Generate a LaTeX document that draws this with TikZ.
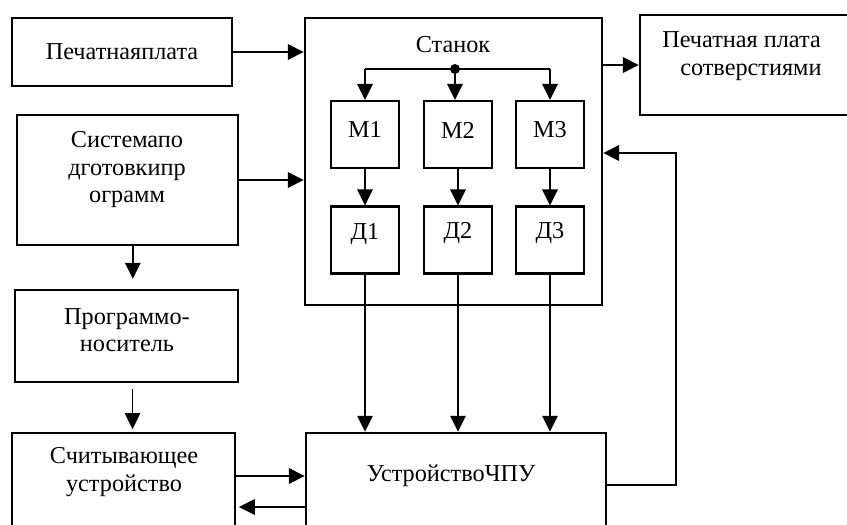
\documentclass[tikz,border=0pt]{standalone}
\usepackage{fontspec}
\setmainfont{Liberation Serif}
\usetikzlibrary{arrows.meta}
\begin{document}
\begin{tikzpicture}[x=0.75pt,y=-0.75pt,
  box/.style={draw,line width=1.8pt,inner sep=0pt},
  lbl/.style={font=\fontsize{18.2}{20.6}\selectfont,inner sep=0pt,align=center},
  tip/.style={-{Triangle[length=12pt,width=11.5pt]}},
  arr/.style={line width=1.8pt,tip},
  tarr/.style={line width=1.4pt,tip}]
\useasboundingbox (0,0) rectangle (847,525);
\clip (0,0) rectangle (847,525);
% boxes
\node[box,minimum width=165pt,minimum height=51pt] (pp) at (122,52) {};
\node[box,minimum width=222.75pt,minimum height=215.25pt] (st) at (453.5,161.5) {};
\node[box,minimum width=172.5pt,minimum height=75pt] (out) at (755,65) {};
\node[box,minimum width=165.75pt,minimum height=97.5pt] (sys) at (127.5,180) {};
\node[box,minimum width=167.25pt,minimum height=69pt] (prog) at (126.5,336) {};
\node[box,minimum width=167.25pt,minimum height=95.25pt] (read) at (123.5,496.5) {};
\node[box,minimum width=225pt,minimum height=95.25pt] (cnc) at (456,496.5) {};
\node[box,minimum width=51pt,minimum height=50pt] (m1) at (365,134.5) {};
\node[box,minimum width=51pt,minimum height=50pt] (m2) at (458,134.5) {};
\node[box,minimum width=51pt,minimum height=50pt] (m3) at (550,134.5) {};
\node[box,minimum width=51pt,minimum height=50pt] (d1) at (365,240) {};
\node[box,minimum width=51pt,minimum height=50pt] (d2) at (458,240) {};
\node[box,minimum width=51pt,minimum height=50pt] (d3) at (550,240) {};
% texts
\node[lbl] (tpp) at (122,52) {Печатнаяплата};
\node[lbl] (tst) at (453,45) {Станок};
\node[lbl,align=left,anchor=west] (tout) at (662,56) {Печатная плата\\\hspace*{13.5pt}сотверстиями};
\node[lbl] (tsys) at (127,170) {Системапо\\дготовкипр\\ограмм};
\node[lbl] (tprog) at (127,330) {Программо-\\носитель};
\node[lbl] (tread) at (124,472) {Считывающее\\устройство};
\node[lbl] (tcnc) at (451,476) {УстройствоЧПУ};
\node[lbl] (tm1) at (365,129) {М1};
\node[lbl] (tm2) at (458,130) {М2};
\node[lbl] (tm3) at (550,130) {М3};
\node[lbl] (td1) at (365,234) {Д1};
\node[lbl] (td2) at (458,233) {Д2};
\node[lbl] (td3) at (550,233) {Д3};
% helper coordinates
\coordinate (bus) at (0,69);
\coordinate (yr) at (0,476);
\coordinate (yl) at (0,507);
\coordinate (fb) at (676,485);
\coordinate (fbin) at (0,153);
\node[circle,fill,inner sep=0pt,minimum size=7.5pt] (dot) at (455,69) {};
% bus inside machine
\draw[line width=1.8pt] (m1.north |- bus) -- (m3.north |- bus);
\draw[arr] (m1.north |- bus) -- (m1.north);
\draw[arr] (dot) -- (dot |- m2.north);
\draw[arr] (m3.north |- bus) -- (m3.north);
\draw[arr] (m1.south) -- (d1.north);
\draw[arr] (m2.south) -- (d2.north);
\draw[arr] (m3.south) -- (d3.north);
% external arrows
\draw[arr] (pp.east) -- (pp.east -| st.west);
\draw[arr] (sys.east) -- (sys.east -| st.west);
\draw[arr] (st.east |- out.west) -- (out.west);
\draw[arr,shorten >=7.5pt] ([xshift=4pt]sys.south) -- ([xshift=4pt]sys.south |- prog.north);
\draw[tarr,shorten <=4.5pt,shorten >=2pt] ([xshift=4.5pt]prog.south) -- ([xshift=4.5pt]prog.south |- read.north);
\draw[tarr] (d1.south) -- (d1.south |- cnc.north);
\draw[tarr] (d2.south) -- (d2.south |- cnc.north);
\draw[tarr] (d3.south) -- (d3.south |- cnc.north);
\draw[arr] (read.east |- yr) -- (cnc.west |- yr);
\draw[arr,shorten >=2pt] (cnc.west |- yl) -- (read.east |- yl);
\draw[arr,line join=miter] (cnc.east |- fb) -- (fb) -- (fb |- fbin) -- (st.east |- fbin);
\end{tikzpicture}
\end{document}
